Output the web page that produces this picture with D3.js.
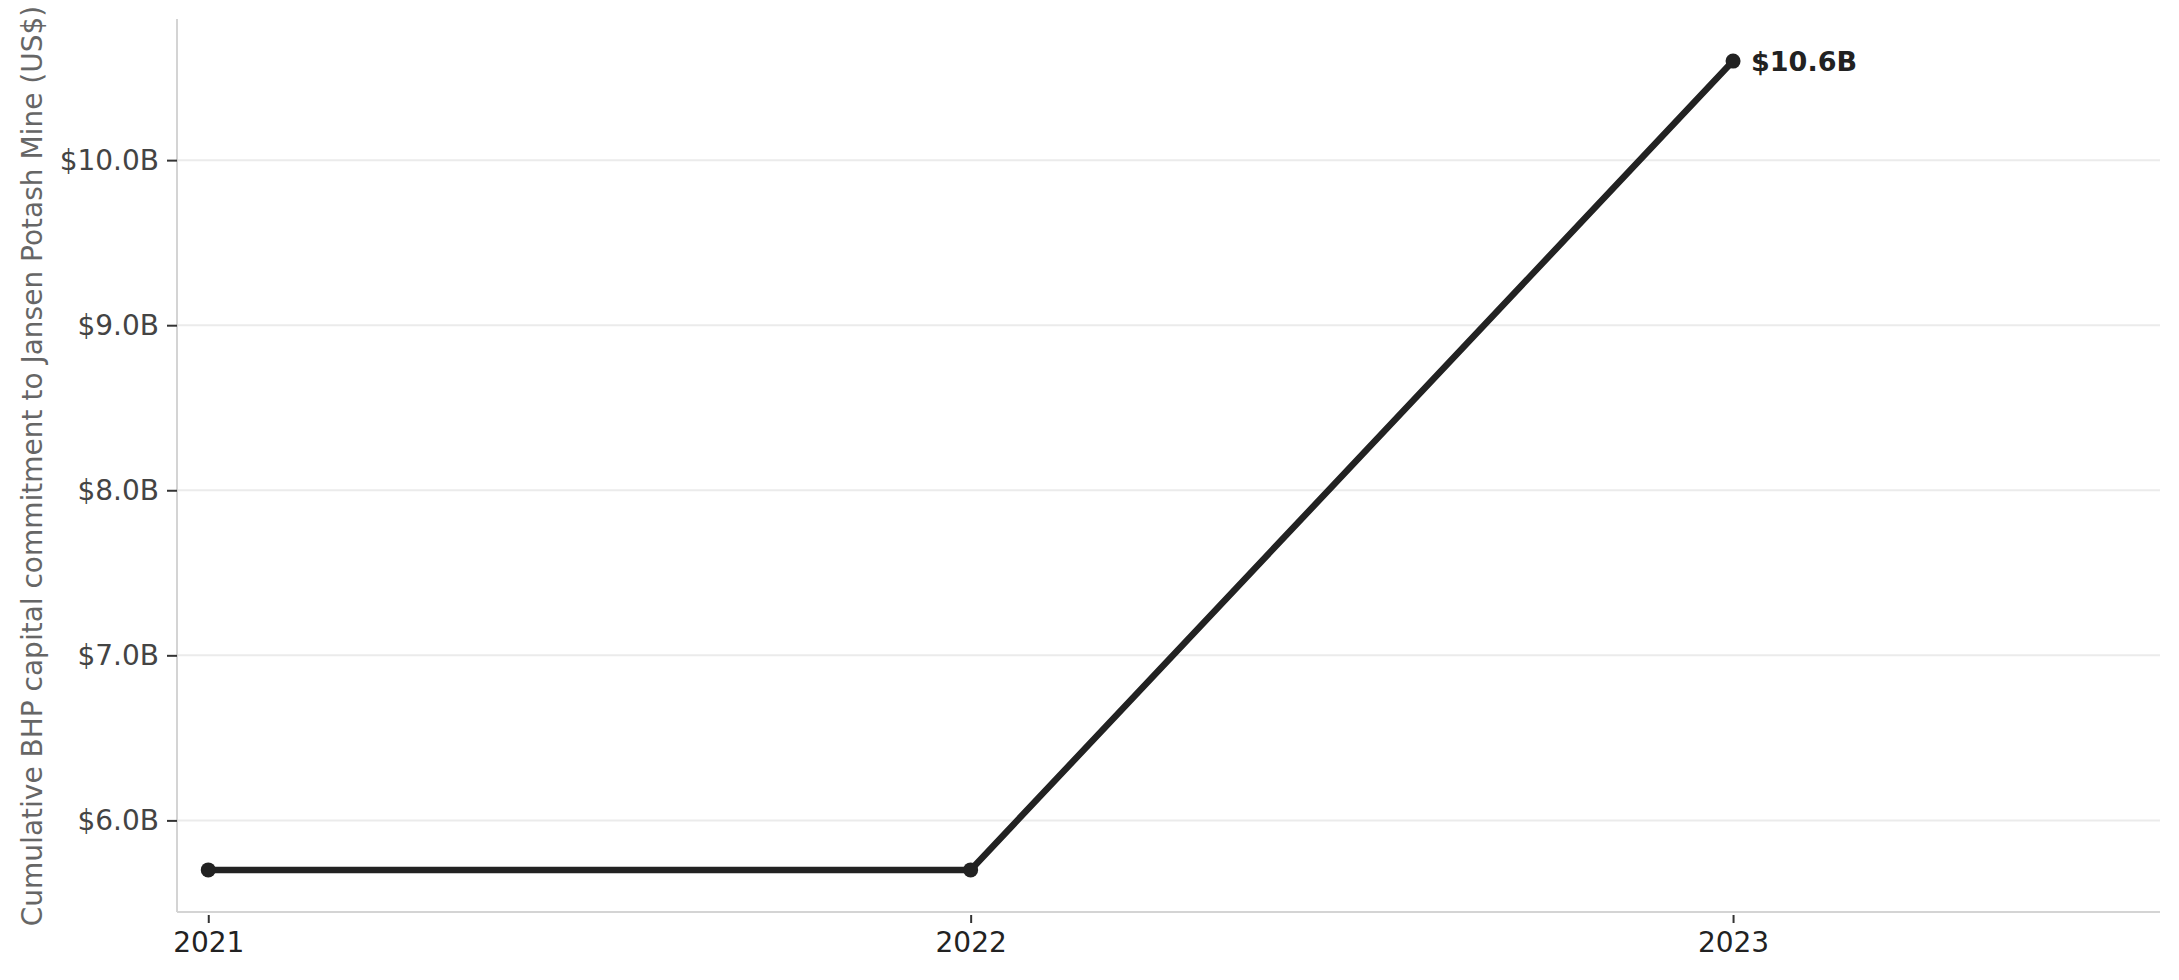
<!DOCTYPE html>
<html><head><meta charset="utf-8">
<script src="https://cdn.jsdelivr.net/npm/d3@7"></script>
<style>body{margin:0;background:#fff;} svg{display:block;font-family:"DejaVu Sans",sans-serif;}</style>
</head><body>
<script>
const years = [2021, 2022, 2023];
const values = [5.7, 5.7, 10.6]; // US$ billions
const yTicks = [6, 7, 8, 9, 10];
const yLabel = "Cumulative BHP capital commitment to Jansen Potash Mine (US$)";
const endLabel = "$10.6B";

(function () {
const W = 2179, H = 980;
const mLeft = 177, mRight = 2160, mTop = 19, mBottom = 912;
const svg = d3.select("body").append("svg").attr("width", W).attr("height", H);

const x = d3.scaleLinear().domain([2020.959, 2023.56]).range([mLeft, mRight]);
const y = d3.scaleLinear().domain([5.445, 10.855]).range([mBottom, mTop]);

// grid
svg.append("g").selectAll("line").data(yTicks).join("line")
  .attr("x1", mLeft).attr("x2", mRight)
  .attr("y1", d => y(d)).attr("y2", d => y(d))
  .attr("stroke", "#ebebeb").attr("stroke-width", 2);

// spines
svg.append("line").attr("x1", mLeft).attr("x2", mLeft).attr("y1", mTop).attr("y2", mBottom)
  .attr("stroke", "#d4d4d4").attr("stroke-width", 2);
svg.append("line").attr("x1", mLeft).attr("x2", mRight).attr("y1", mBottom).attr("y2", mBottom)
  .attr("stroke", "#d4d4d4").attr("stroke-width", 2);

// y axis
const yAxis = d3.axisLeft(y).tickValues(yTicks).tickSize(10).tickPadding(8)
  .tickFormat(d => "$" + d.toFixed(1) + "B");
const gy = svg.append("g").attr("transform", `translate(${mLeft},0)`).call(yAxis);
gy.select(".domain").remove();
gy.selectAll(".tick line").attr("stroke", "#333").attr("stroke-width", 2);
gy.selectAll(".tick text").attr("fill", "#444").style("font-size", "28px")
  .style("font-family", "DejaVu Sans");

// x axis
const xAxis = d3.axisBottom(x).tickValues(years).tickSize(11).tickPadding(9)
  .tickFormat(d3.format("d"));
const gx = svg.append("g").attr("transform", `translate(0,${mBottom})`).call(xAxis);
gx.select(".domain").remove();
gx.selectAll(".tick line").attr("stroke", "#333").attr("stroke-width", 2).attr("y1", 3);
gx.selectAll(".tick text").attr("fill", "#222").style("font-size", "28px")
  .style("font-family", "DejaVu Sans");

// y label
svg.append("text")
  .attr("transform", `translate(42,466) rotate(-90)`)
  .attr("text-anchor", "middle")
  .attr("fill", "#666").style("font-size", "28px")
  .text(yLabel);

// line
const data = years.map((yr, i) => ({yr, v: values[i]}));
svg.append("path").datum(data)
  .attr("fill", "none").attr("stroke", "#222").attr("stroke-width", 6.5)
  .attr("stroke-linejoin", "round")
  .attr("d", d3.line().x(d => x(d.yr)).y(d => y(d.v)));
svg.append("g").selectAll("circle").data(data).join("circle")
  .attr("cx", d => x(d.yr)).attr("cy", d => y(d.v)).attr("r", 7.5).attr("fill", "#222");

// end label
const last = data[data.length - 1];
svg.append("text")
  .attr("x", x(last.yr) + 18).attr("y", y(last.v))
  .attr("dy", "0.35em")
  .attr("fill", "#222").style("font-size", "27px").style("font-weight", "bold")
  .text(endLabel);
})();
</script>
</body></html>
